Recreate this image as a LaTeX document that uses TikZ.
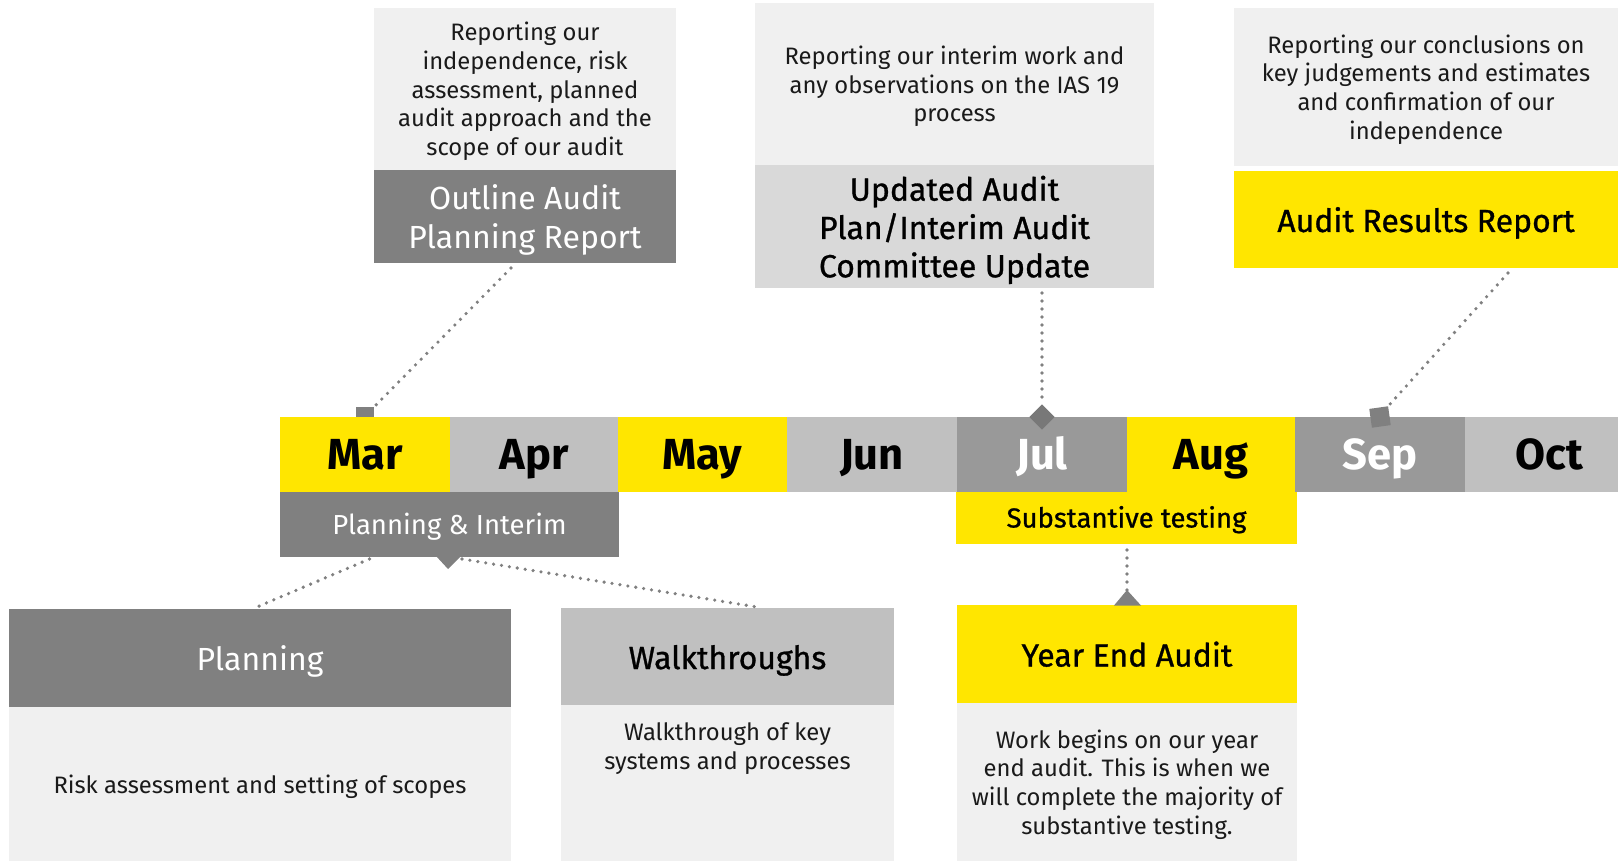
\documentclass[tikz,border=0pt]{standalone}
\usepackage{fontspec}
\setmainfont{Fira Sans}
\newfontfamily\medfont[FakeBold=0.9]{Fira Sans}
\usetikzlibrary{calc}
\definecolor{eyyellow}{HTML}{FFE600}
\definecolor{dkgray}{HTML}{808080}
\definecolor{mdgray}{HTML}{999999}
\definecolor{ltgray}{HTML}{C0C0C0}
\definecolor{hdgray}{HTML}{D9D9D9}
\definecolor{bggray}{HTML}{F0F0F0}
\definecolor{dotgray}{HTML}{808080}
\definecolor{mkgray}{HTML}{787878}
\definecolor{ink}{HTML}{1A1A1A}
\begin{document}
\begin{tikzpicture}[x=1pt,y=-1pt,
  panel/.style={rectangle, inner sep=0pt, outer sep=0pt, anchor=north west, align=center},
  note/.style={panel, fill=bggray, text=ink, text depth=0pt, font=\fontsize{23.8}{28.7}\selectfont},
  lownote/.style={note, text depth=-4pt},
  notetext/.style={inner sep=0pt, outer sep=0pt, align=center, text=ink, font=\fontsize{23.8}{28.7}\selectfont},
  head/.style={panel, text depth=0pt, font=\fontsize{32}{38.3}\selectfont},
  bhead/.style={panel, text depth=0pt, font=\medfont\fontsize{32}{38.3}\selectfont},
  one/.style={text height=25pt},
  month/.style={panel, text height=30pt, text depth=0pt, minimum height=75pt, font=\fontsize{43.5}{43.5}\selectfont\bfseries},
  bar/.style={panel, text height=19pt, text depth=0pt, font=\fontsize{27.5}{30}\selectfont},
  dotline/.style={draw=dotgray, line width=3.6pt, line cap=round, dash pattern=on 0pt off 8pt},
  marker/.style={rectangle, inner sep=0pt, outer sep=0pt, minimum size=18pt}
]
\useasboundingbox (0,0) rectangle (1618,861);

% ---- top boxes ----
\node[note, minimum width=302pt, minimum height=162pt] (outT) at (374,8)
  {Reporting our\\independence, risk\\assessment, planned\\audit approach and the\\scope of our audit};
\node[head, fill=dkgray, text=white, minimum width=302pt, minimum height=93pt] (outH) at (374,170)
  {Outline Audit\\Planning Report};

\node[note, minimum width=399pt, minimum height=162pt] (updT) at (755,3)
  {Reporting our interim work and\\any observations on the IAS 19\\process};
\node[bhead, fill=hdgray, text=black, minimum width=399pt, minimum height=123pt] (updH) at (755,165)
  {Updated Audit\\Plan/Interim Audit\\Committee Update};

\node[note, minimum width=384pt, minimum height=158pt] (arrT) at (1234,8)
  {Reporting our conclusions on\\key judgements and estimates\\and confirmation of our\\independence};
\node[bhead, one, fill=eyyellow, text=black, minimum width=384pt, minimum height=97pt] (arrH) at (1234,171)
  {Audit Results Report};

% ---- marker behind Mar ----
\node[marker, fill=dkgray] (mMar) at (365,416) {};

% ---- months ----
\node[month, fill=eyyellow, text=black, minimum width=170pt] (mar) at (280,417) {Mar};
\node[month, fill=ltgray, text=black, minimum width=168pt] (apr) at (450,417) {Apr};
\node[month, fill=eyyellow, text=black, minimum width=169pt] (may) at (618,417) {May};
\node[month, fill=ltgray, text=black, minimum width=170pt] (jun) at (787,417) {Jun};
\node[month, fill=mdgray, text=white, minimum width=170pt] (jul) at (957,417) {Jul};
\node[month, fill=eyyellow, text=black, minimum width=168pt] (aug) at (1127,417) {Aug};
\node[month, fill=mdgray, text=white, minimum width=170pt] (sep) at (1295,417) {Sep};
\node[month, fill=ltgray, text=black, minimum width=169pt] (oct) at (1465,417) {Oct};

% ---- markers on top ----
\node[marker, fill=mkgray, rotate=45] (mJul) at (1042,417) {};
\node[marker, fill=dkgray, minimum size=19pt, rotate=8] (mSep) at (1380,417) {};

% ---- phase bars ----
\node[bar, fill=dkgray, text=white, minimum width=339pt, minimum height=65pt] (pi) at (280,492)
  {Planning \& Interim};
\node[bar, fill=eyyellow, text=black, minimum width=341pt, minimum height=52pt, font=\medfont\fontsize{27.5}{30}\selectfont] (sub) at (956,492)
  {Substantive testing};
\coordinate (piTip) at (448,569);
\fill[dkgray] (436,556) -- (piTip) -- (461,556) -- cycle;

% ---- lower boxes ----
\node[head, one, fill=dkgray, text=white, minimum width=502pt, minimum height=98pt] (plH) at (9,609) {Planning};
\node[lownote, minimum width=502pt, minimum height=154pt] (plT) at (9,707) {Risk assessment and setting of scopes};

\node[bhead, one, fill=ltgray, text=black, minimum width=333pt, minimum height=97pt] (wkH) at (561,608) {Walkthroughs};
\node[panel, fill=bggray, minimum width=333pt, minimum height=156pt] (wkB) at (561,705) {};
\node[notetext, anchor=north] (wkT) at ([shift={(0,18)}]wkB.north) {Walkthrough of key\\systems and processes};

\node[bhead, one, fill=eyyellow, text=black, minimum width=340pt, minimum height=98pt] (yeH) at (957,605) {Year End Audit};
\node[lownote, minimum width=340pt, minimum height=158pt] (yeT) at (957,703)
  {Work begins on our year\\end audit. This is when we\\will complete the majority of\\substantive testing.};
\coordinate (yeTip) at (1127,590);
\fill[dkgray] (1114,605.5) -- (yeTip) -- (1141,605.5) -- cycle;

% ---- dotted connectors ----
\draw[dotline] ([shift={(-14,5)}]outH.south) -- (mMar.north east);
\draw[dotline] ([shift={(87.5,5)}]updH.south) -- (mJul.north east);
\draw[dotline] ([shift={(82,5)}]arrH.south) -- (mSep.north east);
\draw[dotline] ([shift={(0.5,6)}]sub.south) -- (yeTip);
\draw[dotline] ([shift={(-80,2)}]pi.south) -- ([shift={(-3,-2)}]plH.north);
\draw[dotline] ([shift={(12.5,2)}]pi.south) -- ([shift={(29.5,-1)}]wkH.north);
\end{tikzpicture}
\end{document}
